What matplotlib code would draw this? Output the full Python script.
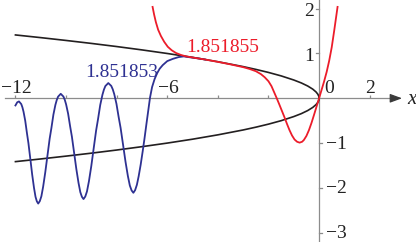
import matplotlib
matplotlib.use('Agg')
import matplotlib.pyplot as plt

# asymptote branches
black_x = [-12, -11, -10, -9, -8, -7, -6, -5, -4, -3, -2.5, -2, -1.5, -1.0, -0.7, -0.45, -0.25, -0.12, -0.05, -0.015, 0]
black_upper = [1.414, 1.354, 1.291, 1.225, 1.155, 1.080, 1.0, 0.913, 0.816, 0.707, 0.645, 0.577, 0.5, 0.408,
               0.342, 0.274, 0.204, 0.141, 0.091, 0.05, 0]
black_lower = [-1.414, -1.354, -1.291, -1.225, -1.155, -1.080, -1.0, -0.913, -0.816, -0.707, -0.645, -0.577, -0.5,
               -0.408, -0.342, -0.274, -0.204, -0.141, -0.091, -0.05, 0]

# y'(0) = 1.851853
blue_x = [-12.0, -11.93, -11.86, -11.77, -11.725, -11.68, -11.613, -11.545, -11.487, -11.405, -11.339, -11.266,
          -11.206, -11.154, -11.10,
          -11.037, -10.975, -10.905, -10.821, -10.742, -10.647, -10.578, -10.499, -10.421, -10.368, -10.315, -10.21,
          -10.104, -10.05, -9.997, -9.918, -9.837, -9.768, -9.672, -9.593, -9.507, -9.436, -9.374, -9.31,
          -9.24, -9.173, -9.095, -9.002, -8.916, -8.811, -8.736, -8.649, -8.562, -8.504, -8.446, -8.33,
          -8.213, -8.154, -8.095, -8.008, -7.92, -7.844, -7.738, -7.651, -7.557, -7.479, -7.41, -7.34,
          -7.27, -7.2, -7.13, -7.05, -6.97, -6.9, -6.82, -6.75, -6.68, -6.6, -6.5, -6.4, -6.3, -6.18, -6.0,
          -5.78, -5.55, -5.35, -5.1, -4.8, -4.5]
blue_y = [-0.16, -0.09, -0.07, -0.129, -0.20, -0.30, -0.501, -0.779, -1.00, -1.383, -1.70, -2.00,
          -2.20, -2.30, -2.35,
          -2.296, -2.188, -1.973, -1.652, -1.311, -0.900, -0.662, -0.363, -0.147, -0.040, 0.036, 0.10,
          0.039, -0.034, -0.137, -0.344, -0.631, -0.859, -1.254, -1.580, -1.888, -2.095, -2.198, -2.25,
          -2.193, -2.079, -1.851, -1.512, -1.152, -0.717, -0.466, -0.150, 0.078, 0.192, 0.273, 0.34,
          0.276, 0.200, 0.093, -0.123, -0.422, -0.660, -1.071, -1.412, -1.733, -1.948, -2.056, -2.11,
          -2.05, -1.93, -1.74, -1.48, -1.18, -0.90, -0.56, -0.27, 0.02, 0.25, 0.43, 0.56, 0.66, 0.74, 0.83,
          0.88, 0.92, 0.935, 0.915, 0.892, 0.865]

# y'(0) = 1.851855
red_x = [-6.58, -6.52, -6.45, -6.36, -6.25, -6.12, -5.98, -5.82, -5.65, -5.45, -5.25, -5.0, -4.5, -4.0, -3.5,
         -3.0, -2.75, -2.5, -2.3, -2.15, -2.0, -1.88, -1.78, -1.68, -1.57, -1.47, -1.37, -1.27, -1.17, -1.07,
         -0.97, -0.87, -0.77, -0.67, -0.6, -0.5, -0.4, -0.3, -0.2, -0.1, 0, 0.1, 0.2, 0.3, 0.4, 0.5, 0.6,
         0.67, 0.73]
red_y = [2.04, 1.87, 1.70, 1.53, 1.39, 1.26, 1.15, 1.07, 1.01, 0.965, 0.935, 0.91, 0.865, 0.813, 0.757,
         0.695, 0.655, 0.605, 0.54, 0.47, 0.38, 0.27, 0.14, 0.01, -0.14, -0.28, -0.42, -0.57, -0.71, -0.83,
         -0.92, -0.97, -0.99, -0.97, -0.93, -0.84, -0.71, -0.55, -0.37, -0.185, 0, 0.19, 0.38, 0.59, 0.84,
         1.14, 1.52, 1.80, 2.04]

xtick_pos = [-12, -10, -8, -6, -4, -2, 2]
xtick_labels = {-12: '\u221212', -6: '\u22126', 2: '2'}
ytick_pos = [2, 1, -1, -2, -3]
ytick_labels = ['2', '1', '\u22121', '\u22122', '\u22123']

BLUE = '#2e3192'
RED = '#ec1c2a'
BLACK = '#231f20'
GRAY = '#8c8c8c'
FONT = 'Liberation Serif'

fig = plt.figure(figsize=(4.16, 2.42), dpi=100)
ax = fig.add_axes([0, 0, 1, 1])
ax.set_xlim(-12.61, 3.83)
ax.set_ylim(-3.208, 2.194)
ax.axis('off')

# axes
ax.plot([-12.41, 3.0], [0, 0], color=GRAY, lw=0.9, zorder=1)
ax.annotate('', xy=(3.28, 0), xytext=(2.9, 0),
            arrowprops=dict(arrowstyle='-|>,head_length=0.6,head_width=0.22', color='#3a3a3a',
                            lw=0.9, mutation_scale=12, shrinkA=0, shrinkB=0), zorder=1)
ax.plot([0, 0], [-3.208, 2.194], color=GRAY, lw=0.9, zorder=1)
ax.vlines(xtick_pos, 0, 0.075, color=GRAY, lw=0.9, zorder=1)
for v in ytick_pos:
    if v > 0:
        ax.plot([-0.11, 0], [v, v], color=GRAY, lw=0.9, zorder=1)
    else:
        ax.plot([0, 0.11], [v, v], color=GRAY, lw=0.9, zorder=1)

# curves
ax.plot(black_x, black_upper, color=BLACK, lw=1.2, zorder=2)
ax.plot(black_x, black_lower, color=BLACK, lw=1.2, zorder=2)
ax.plot(blue_x, blue_y, color=BLUE, lw=1.3, zorder=3)
ax.plot(red_x, red_y, color=RED, lw=1.3, zorder=4)

# tick labels
for v, s in xtick_labels.items():
    off = 0.05 if v == -6 else 0.02
    ax.text(v + off, 0.118, s, ha='center', va='baseline', fontsize=14, family=FONT, color='#222222')
ax.text(0.395, 0.118, '0', ha='center', va='baseline', fontsize=14, family=FONT, color='#222222')
for v, s in zip(ytick_pos, ytick_labels):
    if v > 0:
        ax.text(-0.395, v - 0.163, s, ha='center', va='baseline', fontsize=14, family=FONT, color='#222222')
    else:
        ax.text(0.672, v - 0.125, s, ha='center', va='baseline', fontsize=14, family=FONT, color='#222222')
ax.text(3.656, -0.016, 'x', ha='center', va='center', fontsize=15, family=FONT, style='italic', color='#222222')

# curve labels
ax.text(-7.81, 0.475, '1.851853', ha='center', va='baseline', fontsize=14, family=FONT, color=BLUE)
ax.text(-3.81, 1.033, '1.851855', ha='center', va='baseline', fontsize=14, family=FONT, color=RED)

fig.savefig('out.png', dpi=100)
